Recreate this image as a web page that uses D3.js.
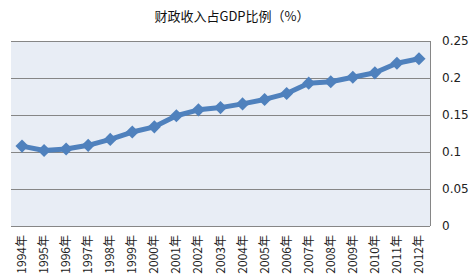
<!DOCTYPE html>
<html>
<head>
<meta charset="utf-8">
<script src="https://cdn.jsdelivr.net/npm/d3@7"></script>
<style>
  body { margin: 0; background: #fff; }
  text { font-family: "Noto Sans CJK SC", "DejaVu Sans", sans-serif; }
</style>
</head>
<body>
<script>
// chart data
var years = ["1994年", "1995年", "1996年", "1997年", "1998年", "1999年", "2000年",
             "2001年", "2002年", "2003年", "2004年", "2005年", "2006年", "2007年",
             "2008年", "2009年", "2010年", "2011年", "2012年"];
var ratio = [0.108, 0.102, 0.104, 0.109, 0.117, 0.127, 0.134, 0.149, 0.157, 0.160,
             0.165, 0.171, 0.179, 0.193, 0.195, 0.201, 0.207, 0.220, 0.226];
var yTicks = [0, 0.05, 0.1, 0.15, 0.2, 0.25];
var title = "财政收入占GDP比例（%）";

var W = 471, H = 280;
var plot = {left: 11, right: 430, top: 41, bottom: 226};

var svg = d3.select("body").append("svg")
    .attr("width", W).attr("height", H);

var x = d3.scaleBand().domain(years).range([plot.left, plot.right]);
var y = d3.scaleLinear().domain([0, 0.25]).range([plot.bottom, plot.top]);

// plot background
svg.append("rect")
    .attr("x", plot.left).attr("y", plot.top)
    .attr("width", plot.right - plot.left).attr("height", plot.bottom - plot.top)
    .attr("fill", "#e8edf5");

// gridlines
svg.append("g").selectAll("line").data(yTicks).join("line")
    .attr("x1", plot.left).attr("x2", plot.right)
    .attr("y1", d => Math.round(y(d)) + 0.5).attr("y2", d => Math.round(y(d)) + 0.5)
    .attr("stroke", "#868686").attr("stroke-width", 1);

// right border
svg.append("line")
    .attr("x1", plot.right + 0.5).attr("x2", plot.right + 0.5)
    .attr("y1", plot.top).attr("y2", plot.bottom)
    .attr("stroke", "#868686");

// y axis on the right
var yAxis = d3.axisRight(y).tickValues(yTicks).tickSize(0).tickPadding(12)
    .tickFormat(d => String(d));
var ga = svg.append("g").attr("transform", "translate(" + plot.right + ",0)").call(yAxis);
ga.select(".domain").remove();
ga.selectAll("text").attr("font-size", 12).attr("fill", "#222")
    .style("font-family", "\"DejaVu Sans\", sans-serif");

// x labels (rotated)
var gx = svg.append("g");
gx.selectAll("text").data(years).join("text")
    .attr("transform", d => "translate(" + (x(d) + x.bandwidth() / 2 + 4) + ",235) rotate(-90)")
    .attr("text-anchor", "end")
    .attr("font-size", 12).attr("fill", "#222")
    .text(d => d);

// line
var pts = years.map((d, i) => [x(d) + x.bandwidth() / 2, y(ratio[i])]);
svg.append("path")
    .attr("d", d3.line()(pts))
    .attr("fill", "none").attr("stroke", "#4f81bd")
    .attr("stroke-width", 5).attr("stroke-linejoin", "round");

// diamond markers
svg.append("g").selectAll("path").data(pts).join("path")
    .attr("transform", d => "translate(" + d[0] + "," + d[1] + ")")
    .attr("d", d3.symbol().type(d3.symbolDiamond2).size(110))
    .attr("fill", "#4f81bd");

// title
svg.append("text")
    .attr("x", 232).attr("y", 21)
    .attr("text-anchor", "middle")
    .attr("font-size", 13).attr("fill", "#111")
    .text(title);
</script>
</body>
</html>
